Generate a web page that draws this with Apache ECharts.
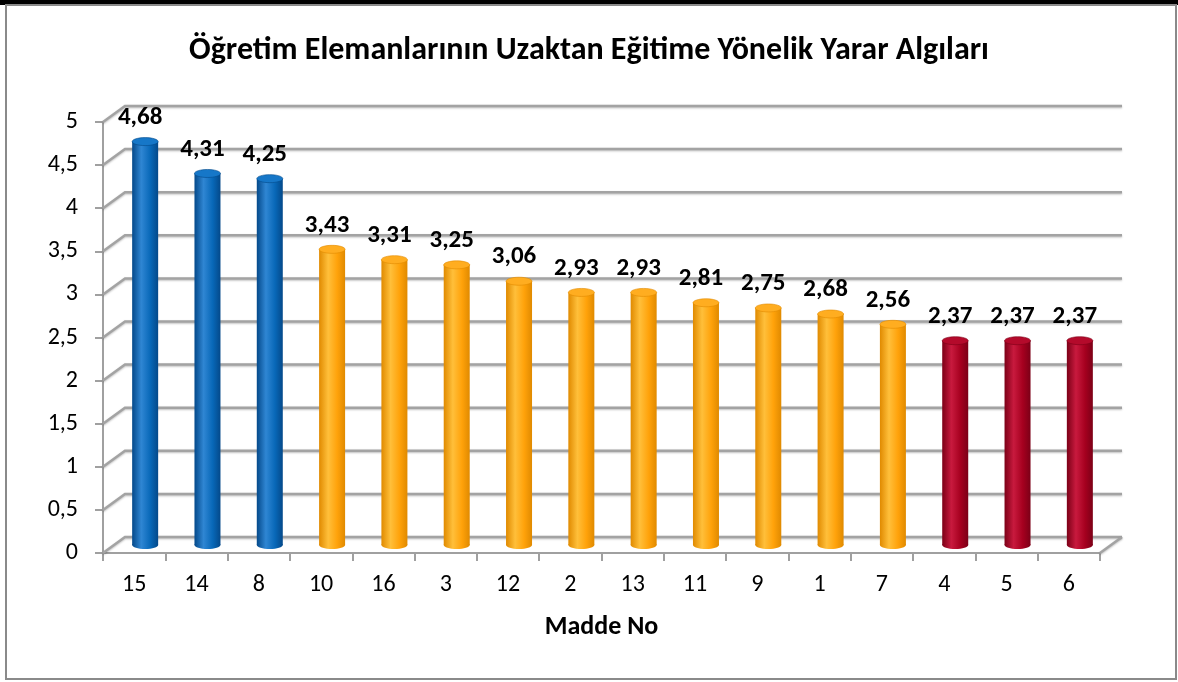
<!DOCTYPE html>
<html>
<head>
<meta charset="utf-8">
<script src="https://cdn.jsdelivr.net/npm/echarts@6/dist/echarts.min.js"></script>
<style>
html,body{margin:0;padding:0;background:#fff;}
#wrap{position:relative;width:1178px;height:682px;overflow:hidden;background:#fff;}
#band{position:absolute;left:0;top:0;width:1178px;height:5px;background:#000;}
#frame{position:absolute;left:5px;top:4px;width:1172px;height:676px;box-sizing:border-box;border:2px solid #8a8a8a;}
#chart{position:absolute;left:0;top:0;width:1178px;height:682px;}
</style>
</head>
<body>
<div id="wrap"><div id="band"></div><div id="frame"></div><div id="chart"></div></div>
<script>
const titleText = 'Öğretim Elemanlarının Uzaktan Eğitime Yönelik Yarar Algıları';
const axisName = 'Madde No';
const categories = ['15','14','8','10','16','3','12','2','13','11','9','1','7','4','5','6'];
const values = [4.68,4.31,4.25,3.43,3.31,3.25,3.06,2.93,2.93,2.81,2.75,2.68,2.56,2.37,2.37,2.37];
const groups = [0,0,0,1,1,1,1,1,1,1,1,1,1,2,2,2];
const yTicks = [0,0.5,1,1.5,2,2.5,3,3.5,4,4.5,5];

const FONT = 'Carlito, Lato, "Open Sans", sans-serif';
const DX = 22, DY = -16;
const palettes = [
  {edge:'#04498a', mid:'#2f86d3', body:'#0868b8', top:'#1677c8'},
  {edge:'#e08a00', mid:'#ffbf3a', body:'#ffa20a', top:'#ffad20'},
  {edge:'#7c0017', mid:'#c81a3e', body:'#a6001f', top:'#b40a2b'}
];
function grad(p){
  return new echarts.graphic.LinearGradient(0,0,1,0,[
    {offset:0,color:p.edge},{offset:0.35,color:p.mid},{offset:0.7,color:p.body},{offset:1,color:p.edge}
  ]);
}
const fmt = v => String(v).replace('.', ',');

const chart = echarts.init(document.getElementById('chart'), null, {renderer:'canvas'});
chart.setOption({
  animation:false,
  title:{text:titleText,left:'center',top:30,textStyle:{fontFamily:FONT,fontSize:32,fontWeight:'bold',color:'#000'}},
  grid:{left:103,right:78,top:122,bottom:129},
  xAxis:{type:'category',data:categories,boundaryGap:true,
    axisLine:{lineStyle:{color:'#a0a0a0',width:2}},
    axisTick:{show:true,length:8,alignWithLabel:false,lineStyle:{color:'#a0a0a0',width:2}},
    axisLabel:{margin:20,fontFamily:FONT,fontSize:24,color:'#000'},
    name:axisName,nameLocation:'middle',nameGap:61,
    nameTextStyle:{fontFamily:FONT,fontSize:26,fontWeight:'bold',color:'#000'},
    splitLine:{show:false}},
  yAxis:{type:'value',min:0,max:5,interval:0.5,
    axisLine:{show:true,lineStyle:{color:'#a0a0a0',width:2}},
    axisTick:{show:true,length:8,lineStyle:{color:'#a0a0a0',width:2}},
    axisLabel:{margin:25,fontFamily:FONT,fontSize:24,color:'#000',formatter:v=>fmt(v)},
    splitLine:{show:false}},
  series:[
    {type:'custom',z:1,silent:true,data:yTicks.map(v=>[0,v]),encode:{x:0,y:1},
     renderItem:function(params,api){
       const cs = params.coordSys;
       const y = api.coord([0, api.value(1)])[1];
       const x0 = cs.x, x1 = cs.x + cs.width;
       const style = {stroke:'#a3a3a3',lineWidth:2.5,fill:null,shadowColor:'rgba(0,0,0,0.25)',shadowBlur:2,shadowOffsetY:1};
       const children = [
         {type:'polyline',shape:{points:[[x0,y],[x0+DX,y+DY],[x1+DX,y+DY]]},style:style}
       ];
       if (api.value(1) === 0) {
         children.push({type:'line',shape:{x1:x1,y1:y,x2:x1+DX,y2:y+DY},style:style});
       }
       return {type:'group',children:children};
     }},
    {type:'custom',z:2,data:values.map((v,i)=>[i,v]),encode:{x:0,y:1},
     renderItem:function(params,api){
       const i = api.value(0), v = api.value(1);
       const p = palettes[groups[i]];
       const c = api.coord([i, v]);
       const b = api.coord([i, 0]);
       const cx = c[0] + DX/2;
       const top = c[1] + DY/2;
       const bot = b[1] + DY/2;
       const rx = 13, ry = 4;
       return {type:'group',children:[
         {type:'rect',shape:{x:cx-rx,y:top,width:rx*2,height:bot-top},style:{fill:grad(p)}},
         {type:'ellipse',shape:{cx:cx,cy:bot,rx:rx,ry:ry},style:{fill:grad(p)}},
         {type:'ellipse',shape:{cx:cx,cy:top,rx:rx,ry:ry},style:{fill:p.top,stroke:p.edge,lineWidth:0.6}},
         {type:'text',x:cx-5,y:top-24,style:{text:fmt(v),fontFamily:FONT,fontSize:25,fontWeight:'bold',fill:'#000',align:'center',verticalAlign:'middle'}}
       ]};
     }}
  ]
});
</script>
</body>
</html>
